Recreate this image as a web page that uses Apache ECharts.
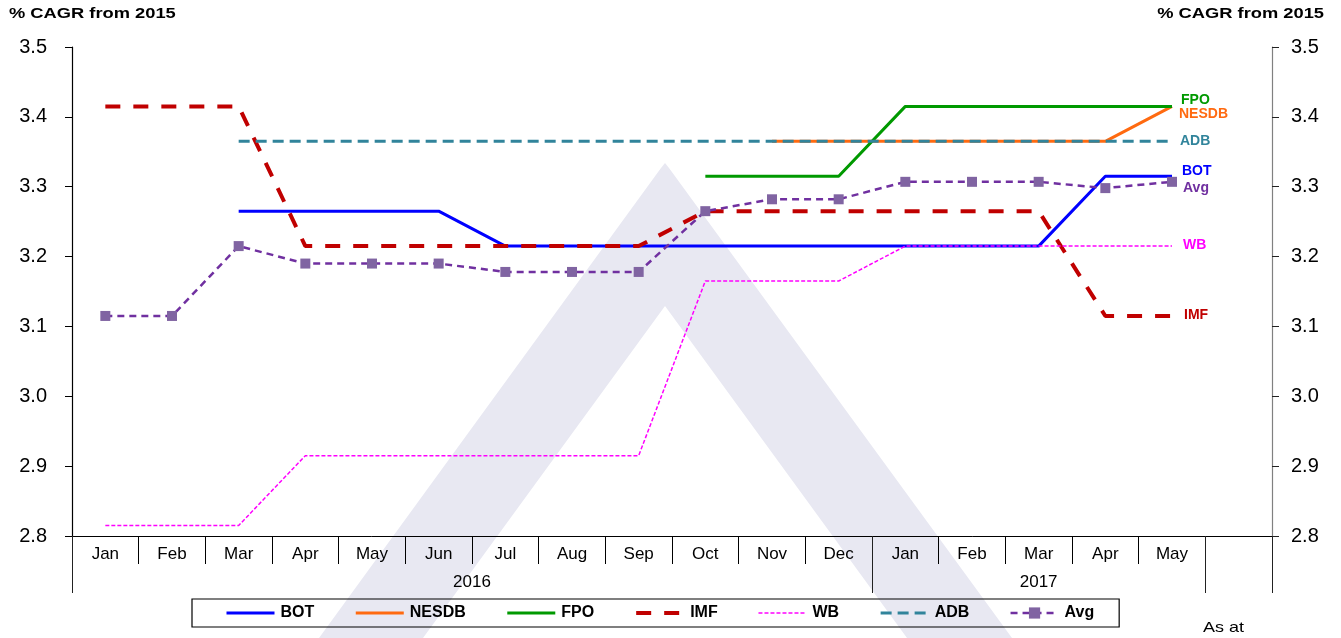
<!DOCTYPE html>
<html>
<head>
<meta charset="utf-8">
<script src="https://cdn.jsdelivr.net/npm/echarts@6/dist/echarts.min.js"></script>
<style>html,body{margin:0;padding:0;background:#fff}#c{width:1341px;height:638px}</style>
</head>
<body>
<div id="c"></div>
<script>
// ---- data ----
const months = ['Jan','Feb','Mar','Apr','May','Jun','Jul','Aug','Sep','Oct','Nov','Dec','Jan','Feb','Mar','Apr','May',''];
const years = ['2016','2017'];
const yearSpans = [12, 5];
const yTicks = [2.8, 3.5, 0.1]; // min, max, step
const bot   = [null,null,3.265,3.265,3.265,3.265,3.215,3.215,3.215,3.215,3.215,3.215,3.215,3.215,3.215,3.315,3.315];
const nesdb = [null,null,null,null,null,null,null,null,null,null,3.365,3.365,3.365,3.365,3.365,3.365,3.415];
const fpo   = [null,null,null,null,null,null,null,null,null,3.315,3.315,3.315,3.415,3.415,3.415,3.415,3.415];
const imf   = [3.415,3.415,3.415,3.215,3.215,3.215,3.215,3.215,3.215,3.265,3.265,3.265,3.265,3.265,3.265,3.115,3.115];
const wb    = [2.815,2.815,2.815,2.915,2.915,2.915,2.915,2.915,2.915,3.165,3.165,3.165,3.215,3.215,3.215,3.215,3.215];
const adb   = [null,null,3.365,3.365,3.365,3.365,3.365,3.365,3.365,3.365,3.365,3.365,3.365,3.365,3.365,3.365,3.365];
const avg   = [3.115,3.115,3.215,3.19,3.19,3.19,3.178,3.178,3.178,3.265,3.282,3.282,3.307,3.307,3.307,3.298,3.307];
const seriesNames = ['BOT', 'NESDB', 'FPO', 'IMF', 'WB', 'ADB', 'Avg'];

// half-slot year axis built from spans
const yearSlots = new Array(months.length * 2 + 1).fill('');
const yearBounds = [0];
let start = 0;
years.forEach((y, i) => {
  yearSlots[2 * start + yearSpans[i]] = y;
  start += yearSpans[i];
  yearBounds.push(2 * start);
});
yearBounds.push(months.length * 2);

const FONT = "'Liberation Sans', Arial, sans-serif";
const chart = echarts.init(document.getElementById('c'));

function line(name, data, color, width, type, dx, dy, more) {
  return Object.assign({
    name, type: 'line', data, symbol: 'none', showSymbol: false,
    connectNulls: false, silent: true,
    lineStyle: { color, width, type },
    itemStyle: { color },
    endLabel: {
      show: true, formatter: name, color, distance: 0,
      offset: [dx, dy],
      fontFamily: FONT, fontWeight: 'bold', fontSize: 14
    },
    emphasis: { disabled: true }
  }, more || {});
}

const option = {
  animation: false,
  textStyle: { fontFamily: FONT },
  grid: { left: 72, right: 69, top: 47, bottom: 102, containLabel: false },
  graphic: [
    {
      type: 'polygon', z: -10, silent: true,
      shape: { points: [[319, 638], [661, 168], [665, 163], [669, 168], [1012, 638], [907, 638], [665, 306], [423, 638]] },
      style: { fill: '#e8e8f2' }
    },
    { type: 'text', x: 9, y: 14, scaleX: 1.22, style: { text: '% CAGR from 2015', font: "bold 15px " + FONT, fill: '#000', textAlign: 'left', textVerticalAlign: 'middle' } },
    { type: 'text', x: 1324, y: 14, scaleX: 1.22, style: { text: '% CAGR from 2015', font: "bold 15px " + FONT, fill: '#000', textAlign: 'right', textVerticalAlign: 'middle' } },
    { type: 'text', x: 1203, y: 628, scaleX: 1.2, style: { text: 'As at', font: "15px " + FONT, fill: '#000', textAlign: 'left', textVerticalAlign: 'middle' } }
  ],
  legend: {
    left: 192, top: 599,
    padding: [6, 25, 6, 33],
    borderColor: '#000', borderWidth: 1.2,
    itemWidth: 48, itemHeight: 14, itemGap: 40,
    icon: 'inherit',
    lineStyle: { width: 'inherit', type: 'inherit' },
    textStyle: { fontFamily: FONT, fontWeight: 'bold', fontSize: 16, color: '#000', padding: [0, 0, 0, 1] },
    data: seriesNames.map(n => n === 'Avg' ? { name: n } : { name: n, itemStyle: { opacity: 0 } }),
    selectedMode: false
  },
  xAxis: [
    {
      type: 'category', data: months, boundaryGap: true, position: 'bottom',
      axisLine: { show: true, lineStyle: { color: '#000', width: 1 } },
      axisTick: { show: true, interval: 0, length: 28, lineStyle: { color: '#000' } },
      axisLabel: { interval: 0, margin: 10, fontSize: 17, color: '#000', fontFamily: FONT },
      splitLine: { show: false }
    },
    {
      type: 'category', data: yearSlots, boundaryGap: false, position: 'bottom',
      axisLine: { show: false },
      axisTick: { show: true, length: 57, interval: (i) => yearBounds.indexOf(i) >= 0, lineStyle: { color: '#222' } },
      axisLabel: { interval: 0, margin: 38, fontSize: 17, color: '#000', fontFamily: FONT },
      splitLine: { show: false }
    }
  ],
  yAxis: [
    {
      type: 'value', min: yTicks[0], max: yTicks[1], interval: yTicks[2], position: 'left',
      axisLine: { show: true, lineStyle: { color: '#000', width: 1.2 } },
      axisTick: { show: true, inside: false, length: 7, lineStyle: { color: '#000' } },
      axisLabel: { margin: 25, fontSize: 20, color: '#000', fontFamily: FONT, formatter: v => v.toFixed(1) },
      splitLine: { show: false }
    },
    {
      type: 'value', min: yTicks[0], max: yTicks[1], interval: yTicks[2], position: 'right',
      axisLine: { show: true, lineStyle: { color: '#808080', width: 1.2 } },
      axisTick: { show: true, inside: false, length: 7, lineStyle: { color: '#222' } },
      axisLabel: { margin: 19, fontSize: 20, color: '#000', fontFamily: FONT, formatter: v => v.toFixed(1) },
      splitLine: { show: false }
    }
  ],
  series: [
    line('BOT', bot, '#0000ff', 3, 'solid', 10, -5),
    line('NESDB', nesdb, '#ff6a10', 3, 'solid', 7, 8),
    line('FPO', fpo, '#009900', 3, 'solid', 9, -6),
    line('IMF', imf, '#c00000', 4, [15, 13], 12, -1),
    line('WB', wb, '#ff00ff', 1.5, [4, 2], 11, -1),
    line('ADB', adb, '#31849b', 3, [11, 6], 8, 0),
    line('Avg', avg, '#7030a0', 2.5, [7, 5], 11, 6, {
      symbol: 'rect', symbolSize: 10, showSymbol: true,
      itemStyle: { color: '#8064a2', borderWidth: 0 }
    })
  ]
};
chart.setOption(option);
</script>
</body>
</html>
